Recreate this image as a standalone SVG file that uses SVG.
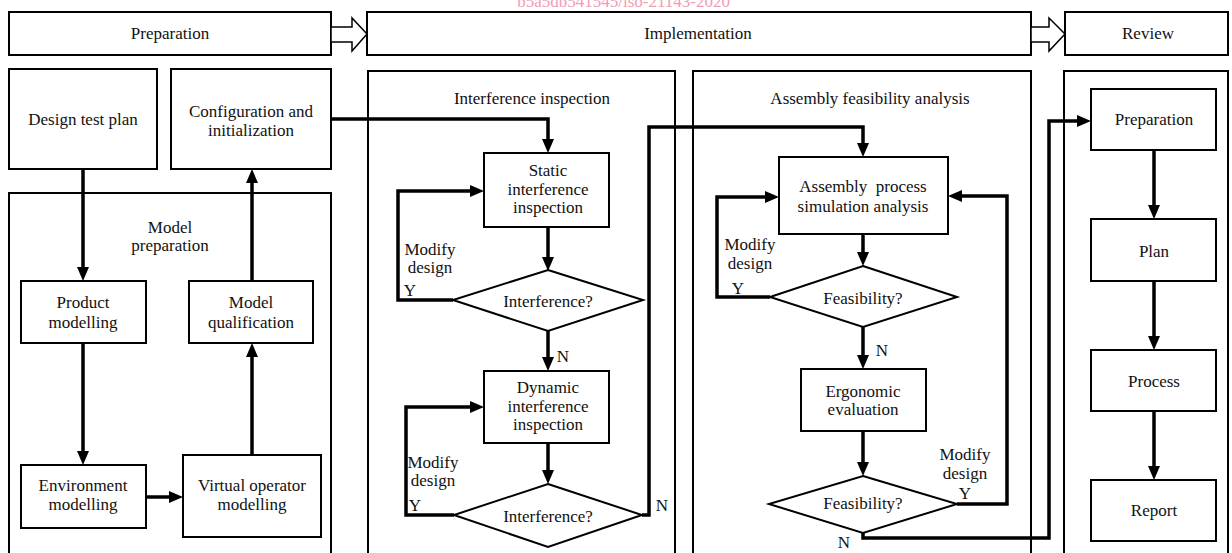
<svg xmlns="http://www.w3.org/2000/svg" width="1232" height="553" viewBox="0 0 1232 553">
<style>
.box{fill:#fff;stroke:#000;stroke-width:2}
.panel{fill:none;stroke:#000;stroke-width:2}
.conn{fill:none;stroke:#000;stroke-width:3.5;marker-end:url(#ah)}
.hollow{fill:#fff;stroke:#000;stroke-width:1.5}
.t{font-family:"Liberation Serif",serif;font-size:17px;text-anchor:middle;fill:#111}
.wm{font-family:"Liberation Serif",serif;font-size:17px;text-anchor:end;fill:#f29bb5}
</style>
<defs>
<marker id="ah" markerUnits="userSpaceOnUse" markerWidth="14" markerHeight="12" viewBox="0 0 14 12" refX="6" refY="6" orient="auto">
<path d="M0,0 L14,6 L0,12 z" fill="#000"/>
</marker>
</defs>
<rect width="1232" height="553" fill="#fff"/>
<text class="wm" x="730" y="7">b5a5db541545/iso-21143-2020</text>

<g id="header">
<g id="h-prep"><rect class="box" x="9" y="12" width="322" height="43"/><text class="t" x="170" y="38.5">Preparation</text></g>
<g id="h-impl"><rect class="box" x="367" y="12" width="664" height="43"/><text class="t" x="698" y="38.5">Implementation</text></g>
<g id="h-rev"><rect class="box" x="1065" y="12" width="163" height="43"/><text class="t" x="1148" y="38.5">Review</text></g>
<polygon class="hollow" points="331,27 352,27 352,18 367,34 352,51 352,42 331,42"/>
<polygon class="hollow" points="1031,27 1049,27 1049,18 1065,34 1049,51 1049,42 1031,42"/>
</g>

<g id="panels">
<g id="p-modelprep"><path class="panel" d="M9,560 V193 H331 V560"/><text class="t" x="170" y="232.5">Model</text><text class="t" x="170" y="250.5">preparation</text></g>
<g id="p-interf"><path class="panel" d="M368,560 V71 H675 V560"/><text class="t" x="532" y="103.5">Interference inspection</text></g>
<g id="p-assembly"><path class="panel" d="M693,560 V71 H1031 V560"/><text class="t" x="870" y="103.5">Assembly feasibility analysis</text></g>
<g id="p-review"><path class="panel" d="M1064,560 V71 H1228 V560"/></g>
</g>

<g id="connectors">
<path class="conn" d="M83,169 V273"/>
<path class="conn" d="M83,343 V457"/>
<path class="conn" d="M146,497 H175"/>
<path class="conn" d="M252,455 V351"/>
<path class="conn" d="M252,281 V177"/>
<path class="conn" d="M331,119 H548 V145"/>
<path class="conn" d="M548,227 V263"/>
<path class="conn" d="M453,300 H398 V191 H476"/>
<path class="conn" d="M548,331 V363"/>
<path class="conn" d="M548,443 V476"/>
<path class="conn" d="M454,515 H406 V407 H476"/>
<path class="conn" d="M642,515 H649 V127 H863 V149"/>
<path class="conn" d="M863,234 V258"/>
<path class="conn" d="M770,297 H717 V197 H771"/>
<path class="conn" d="M863,327 V361"/>
<path class="conn" d="M863,431 V468"/>
<path class="conn" d="M957,504 H1007 V196 H956"/>
<path class="conn" d="M863,533 V538 H1049 V121 H1083"/>
<path class="conn" d="M1154,150 V211"/>
<path class="conn" d="M1154,281 V342"/>
<path class="conn" d="M1154,411 V472"/>
</g>

<g id="n-design"><rect class="box" x="9" y="69" width="148" height="100"/><text class="t" x="83" y="124.5">Design test plan</text></g>
<g id="n-config"><rect class="box" x="171" y="69" width="160" height="100"/><text class="t" x="251" y="116.5">Configuration and</text><text class="t" x="251" y="135.5">initialization</text></g>
<g id="n-product"><rect class="box" x="21" y="281" width="125" height="62"/><text class="t" x="83" y="307.5">Product</text><text class="t" x="83" y="327.5">modelling</text></g>
<g id="n-qual"><rect class="box" x="189" y="281" width="124" height="62"/><text class="t" x="251" y="307.5">Model</text><text class="t" x="251" y="327.5">qualification</text></g>
<g id="n-env"><rect class="box" x="21" y="465" width="125" height="63"/><text class="t" x="83" y="490.5">Environment</text><text class="t" x="83" y="509.5">modelling</text></g>
<g id="n-virtual"><rect class="box" x="183" y="455" width="138" height="82"/><text class="t" x="252" y="490.5">Virtual operator</text><text class="t" x="252" y="509.5">modelling</text></g>

<g id="n-static"><rect class="box" x="484" y="153" width="125" height="74"/><text class="t" x="548" y="175.5">Static</text><text class="t" x="548" y="194.5">interference</text><text class="t" x="548" y="212.5">inspection</text></g>
<g id="n-d1"><polygon class="box" points="548,270 643,300 548,331 453,300"/><text class="t" x="548" y="307">Interference?</text></g>
<g id="n-dynamic"><rect class="box" x="484" y="371" width="125" height="72"/><text class="t" x="548" y="392.5">Dynamic</text><text class="t" x="548" y="411.5">interference</text><text class="t" x="548" y="429.5">inspection</text></g>
<g id="n-d2"><polygon class="box" points="548,484 642,515 548,547 454,515"/><text class="t" x="548" y="521.5">Interference?</text></g>

<g id="n-asm"><rect class="box" x="779" y="157" width="169" height="77"/><text class="t" x="863" y="191.5" xml:space="preserve">Assembly  process</text><text class="t" x="863" y="211.5">simulation analysis</text></g>
<g id="n-d3"><polygon class="box" points="863,266 957,297 863,327 770,297"/><text class="t" x="863" y="303.5">Feasibility?</text></g>
<g id="n-ergo"><rect class="box" x="801" y="369" width="125" height="62"/><text class="t" x="863" y="396.5">Ergonomic</text><text class="t" x="863" y="414.5">evaluation</text></g>
<g id="n-d4"><polygon class="box" points="863,476 957,504 863,533 769,504"/><text class="t" x="863" y="508.5">Feasibility?</text></g>

<g id="n-rprep"><rect class="box" x="1091" y="89" width="125" height="61"/><text class="t" x="1154" y="124.5">Preparation</text></g>
<g id="n-plan"><rect class="box" x="1091" y="219" width="125" height="62"/><text class="t" x="1154" y="256.5">Plan</text></g>
<g id="n-process"><rect class="box" x="1091" y="350" width="125" height="61"/><text class="t" x="1154" y="386.5">Process</text></g>
<g id="n-report"><rect class="box" x="1091" y="480" width="125" height="61"/><text class="t" x="1154" y="515.5">Report</text></g>

<g id="labels">
<text class="t" x="430" y="254.5">Modify</text><text class="t" x="430" y="272.5">design</text><text class="t" x="410" y="296">Y</text>
<text class="t" x="563" y="362">N</text>
<text class="t" x="433" y="467.5">Modify</text><text class="t" x="433" y="485.5">design</text><text class="t" x="415" y="511">Y</text>
<text class="t" x="662" y="511">N</text>
<text class="t" x="750" y="249.5">Modify</text><text class="t" x="750" y="268.5">design</text><text class="t" x="738" y="294">Y</text>
<text class="t" x="882" y="355.5">N</text>
<text class="t" x="965" y="459.5">Modify</text><text class="t" x="965" y="478.5">design</text><text class="t" x="965" y="499">Y</text>
<text class="t" x="844" y="547.5">N</text>
</g>
</svg>
